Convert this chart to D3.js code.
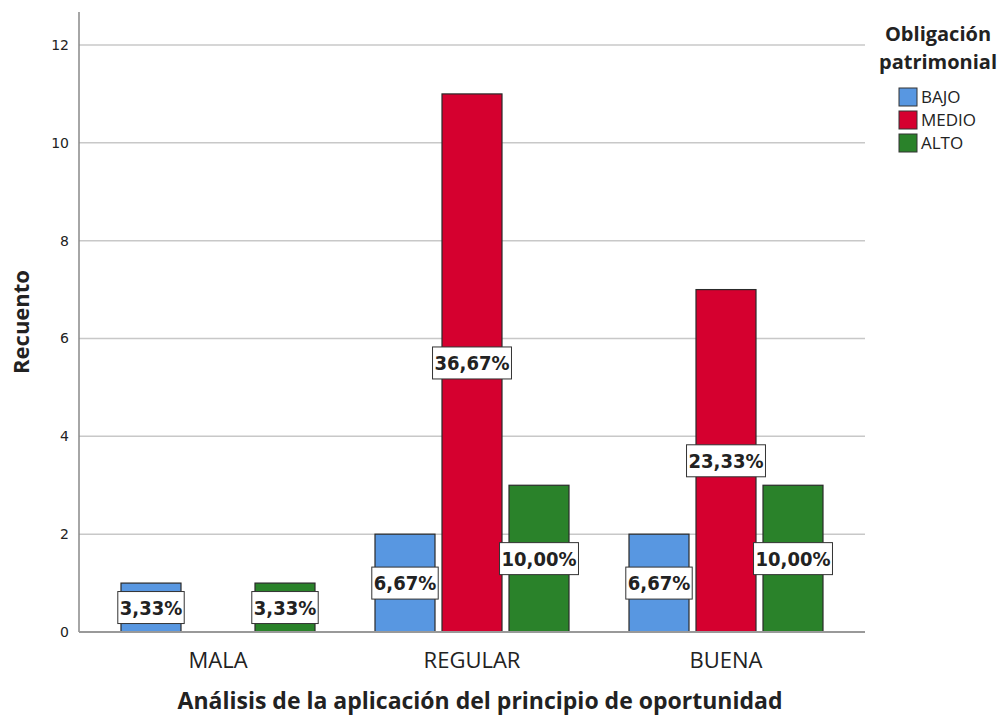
<!DOCTYPE html>
<html><head><meta charset="utf-8">
<script src="https://cdn.jsdelivr.net/npm/d3@7"></script>
<style>body{margin:0;background:#fff}</style>
</head><body><svg id="c" width="1002" height="716"></svg>
<script>
const categories = ["MALA","REGULAR","BUENA"];
const seriesNames = ["BAJO","MEDIO","ALTO"];
const bajo = [1,2,2];
const medio = [0,11,7];
const alto = [1,3,3];
const bajoPct = ["3,33%","6,67%","6,67%"];
const medioPct = ["","36,67%","23,33%"];
const altoPct = ["3,33%","10,00%","10,00%"];
const yTicks = [0,2,4,6,8,10,12];
const colors = ["#5897e1","#d5002f","#2a822a"];

const values = [bajo, medio, alto];
const pcts = [bajoPct, medioPct, altoPct];
const svg = d3.select("#c");
const x = d3.scaleBand().domain(categories).range([91,853]);
const xs = d3.scaleBand().domain(seriesNames).range([30,224]).paddingInner(7/67).paddingOuter(0);
const y = d3.scaleLinear().domain([0,12]).range([632,45]);

// grid
svg.append("g").selectAll("line").data(yTicks.filter(d=>d>0)).join("line")
  .attr("x1",79).attr("x2",865).attr("y1",d=>y(d)).attr("y2",d=>y(d))
  .attr("stroke","#c8c8c8").attr("stroke-width",1.5);

const yAxis = svg.append("g").attr("transform","translate(79,0)")
  .call(d3.axisLeft(y).tickValues(yTicks).tickSize(0).tickPadding(10));
yAxis.select(".domain").remove();
yAxis.selectAll("text").attr("font-family","DejaVu Sans").attr("font-size",14).attr("fill","#222");
svg.append("line").attr("x1",79).attr("x2",79).attr("y1",12).attr("y2",632).attr("stroke","#888").attr("stroke-width",1.5);

// bars
const data = [];
categories.forEach((c,i)=>seriesNames.forEach((s,j)=>data.push({c,s,j,v:values[j][i],p:pcts[j][i]})));
const bars = data.filter(d=>d.v>0);
svg.append("g").selectAll("rect").data(bars).join("rect")
  .attr("x",d=>x(d.c)+xs(d.s)).attr("width",xs.bandwidth())
  .attr("y",d=>y(d.v)).attr("height",d=>y(0)-y(d.v))
  .attr("fill",d=>colors[d.j]).attr("stroke","#2a2a2a").attr("stroke-width",1.2);

svg.append("line").attr("x1",79).attr("x2",865).attr("y1",632).attr("y2",632).attr("stroke","#999").attr("stroke-width",2);

// labels
const lg = svg.append("g").selectAll("g").data(bars).join("g")
  .attr("transform",d=>`translate(${x(d.c)+xs(d.s)+xs.bandwidth()/2},${(y(0)+y(d.v))/2})`);
lg.each(function(d){
  const g = d3.select(this);
  const t = g.append("text").text(d.p).attr("text-anchor","middle").attr("dy","0.36em")
    .attr("font-family","DejaVu Sans Condensed, DejaVu Sans").attr("font-weight","bold").attr("font-size",20).attr("fill","#222");
  const b = t.node().getBBox();
  g.insert("rect","text").attr("x",b.x-2).attr("y",-16).attr("width",b.width+4).attr("height",32)
    .attr("fill","#fff").attr("stroke","#333").attr("stroke-width",1);
});

// x axis labels
svg.append("g").selectAll("text").data(categories).join("text")
  .attr("x",d=>x(d)+x.bandwidth()/2).attr("y",668).attr("text-anchor","middle")
  .attr("font-family","Open Sans").attr("font-size",22).attr("fill","#222").text(d=>d);

svg.append("text").attr("x",480).attr("y",709).attr("text-anchor","middle")
  .attr("font-family","Open Sans").attr("font-weight","bold").attr("font-size",23).attr("fill","#222")
  .text("Análisis de la aplicación del principio de oportunidad");
svg.append("text").attr("transform","translate(29,322) rotate(-90)").attr("text-anchor","middle")
  .attr("font-family","Open Sans").attr("font-weight","bold").attr("font-size",22).attr("fill","#222")
  .text("Recuento");

// legend
const leg = svg.append("g");
leg.append("text").attr("x",938).attr("y",41).attr("text-anchor","middle")
  .attr("font-family","Open Sans").attr("font-weight","bold").attr("font-size",20).attr("fill","#222").text("Obligación");
leg.append("text").attr("x",938).attr("y",69).attr("text-anchor","middle")
  .attr("font-family","Open Sans").attr("font-weight","bold").attr("font-size",20).attr("fill","#222").text("patrimonial");
const li = leg.selectAll("g").data(seriesNames).join("g").attr("transform",(d,i)=>`translate(899,${88+i*23})`);
li.append("rect").attr("width",18).attr("height",18).attr("fill",(d,i)=>colors[i]).attr("stroke","#333");
li.append("text").attr("x",22).attr("y",15).attr("font-family","Open Sans").attr("font-size",17).attr("fill","#222").text(d=>d);
</script></body></html>
